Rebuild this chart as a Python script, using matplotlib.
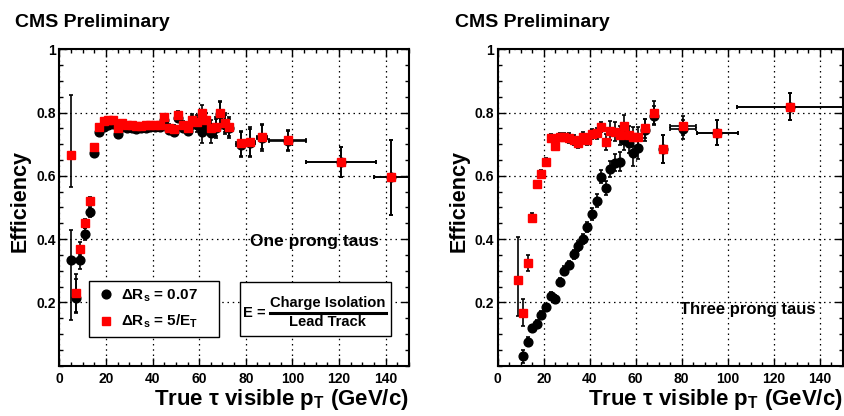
import matplotlib
matplotlib.use("Agg")
import matplotlib.pyplot as plt
from matplotlib.lines import Line2D
from matplotlib.patches import Rectangle
from matplotlib.ticker import MultipleLocator, FixedLocator, FixedFormatter

plt.rcParams['font.family'] = ['Liberation Sans', 'DejaVu Sans']
plt.rcParams['font.weight'] = 'bold'
plt.rcParams['axes.labelweight'] = 'bold'
plt.rcParams['mathtext.fontset'] = 'custom'
plt.rcParams['mathtext.rm'] = 'Liberation Sans:bold'
plt.rcParams['mathtext.it'] = 'Liberation Sans:bold'
plt.rcParams['mathtext.bf'] = 'Liberation Sans:bold'

# ---- one prong taus ----
one_x = [5, 7, 9, 11, 13, 15, 17, 19, 21, 23, 25, 27, 29, 31, 33, 35, 37, 39, 41, 43,
         45, 47, 49, 51, 53, 55, 57, 59, 61, 63, 65, 67, 69, 71, 73,
         78, 82, 87, 98, 121, 142.5]
one_xerr = [0] * 35 + [2, 2, 2, 8, 15, 7.5]
one_red = [0.665, 0.23, 0.37, 0.45, 0.52, 0.69, 0.755, 0.772, 0.776, 0.775, 0.752, 0.766,
           0.762, 0.76, 0.757, 0.757, 0.76, 0.762, 0.76, 0.762, 0.785, 0.752, 0.748, 0.793,
           0.76, 0.75, 0.777, 0.77, 0.798, 0.775, 0.75, 0.755, 0.8, 0.768, 0.755,
           0.703, 0.708, 0.724, 0.713, 0.645, 0.597]
one_red_lo = [0.10, 0.06, 0.02, 0.015, 0.012, 0.01] + [0.008] * 14 + [0.012] * 6 + \
             [0.02, 0.022, 0.025, 0.025, 0.028, 0.03, 0.037, 0.03, 0.03] + \
             [0.04, 0.045, 0.04, 0.032, 0.048, 0.12]
one_red_hi = [0.19, 0.06, 0.02, 0.015, 0.012, 0.01] + [0.008] * 14 + [0.012] * 6 + \
             [0.02, 0.022, 0.025, 0.025, 0.028, 0.03, 0.037, 0.03, 0.03] + \
             [0.04, 0.045, 0.04, 0.032, 0.045, 0.115]
one_blk = [0.335, 0.213, 0.334, 0.416, 0.486, 0.671, 0.74, 0.755, 0.76, 0.765, 0.732, 0.753,
           0.75, 0.75, 0.748, 0.75, 0.752, 0.755, 0.755, 0.755, 0.775, 0.745, 0.74, 0.782,
           0.752, 0.742, 0.768, 0.762, 0.74, 0.762, 0.735, 0.75, 0.795, 0.762, 0.75,
           0.698, 0.703, 0.72, 0.71, 0.645, 0.597]
one_blk_lo = [0.19, 0.045, 0.03, 0.02, 0.015, 0.01] + [0.008] * 14 + [0.012] * 6 + \
             [0.02, 0.022, 0.035, 0.025, 0.03, 0.03, 0.037, 0.03, 0.03] + \
             [0.04, 0.045, 0.04, 0.032, 0.048, 0.12]
one_blk_hi = [0.095, 0.06, 0.03, 0.02, 0.015, 0.01] + [0.008] * 14 + [0.012] * 6 + \
             [0.02, 0.022, 0.035, 0.025, 0.03, 0.03, 0.037, 0.03, 0.03] + \
             [0.04, 0.045, 0.04, 0.032, 0.045, 0.115]

# ---- three prong taus ----
three_red_x = [9, 11, 13, 15, 17, 19, 21, 23, 25, 27, 29, 31, 33, 35, 37, 39, 41, 43, 45,
               47, 49, 51, 53, 55, 57, 59, 61, 64, 68, 72, 80.5, 95.5, 127]
three_red_xerr = [0] * 30 + [5.5, 9, 23]
three_red = [0.271, 0.166, 0.324, 0.468, 0.573, 0.606, 0.645, 0.719, 0.695, 0.724, 0.724,
             0.719, 0.713, 0.703, 0.722, 0.713, 0.732, 0.734, 0.755, 0.708, 0.743, 0.74,
             0.729, 0.758, 0.729, 0.724, 0.724, 0.75, 0.8, 0.685, 0.758, 0.736, 0.819]
three_red_lo = [0.115, 0.04, 0.025, 0.015] + [0.012] * 7 + [0.016] * 8 + \
               [0.025, 0.03, 0.03, 0.03, 0.035, 0.03, 0.03, 0.03, 0.03, 0.035, 0.043, 0.03, 0.04, 0.042]
three_red_hi = [0.135, 0.045, 0.025, 0.015] + [0.012] * 7 + [0.016] * 8 + \
               [0.025, 0.03, 0.03, 0.03, 0.035, 0.03, 0.03, 0.03, 0.03, 0.035, 0.043, 0.03, 0.04, 0.042]
three_blk_x = [11, 13, 15, 17, 19, 21, 23, 25, 27, 29, 31, 33, 35, 37, 39, 41, 43, 45,
               47, 49, 51, 53, 55, 57, 59, 61, 64, 68, 72, 80.5, 95.5, 127]
three_blk_xerr = [0] * 29 + [5.5, 9, 23]
three_blk = [0.029, 0.076, 0.118, 0.131, 0.16, 0.184, 0.221, 0.21, 0.266, 0.30, 0.318,
             0.352, 0.379, 0.40, 0.437, 0.48, 0.522, 0.597, 0.561, 0.621, 0.642, 0.645,
             0.713, 0.703, 0.671, 0.687, 0.745, 0.79, 0.685, 0.748, 0.736, 0.819]
three_blk_err = [0.02, 0.015, 0.012, 0.012, 0.012, 0.012, 0.012, 0.012, 0.012, 0.014, 0.014,
                 0.015, 0.015, 0.016, 0.016, 0.018, 0.02, 0.02, 0.022, 0.025, 0.028, 0.03,
                 0.03, 0.032, 0.04, 0.035, 0.035, 0.03, 0.043, 0.03, 0.04, 0.042]

y_ticks = [0.2, 0.4, 0.6, 0.8, 1.0]
y_labels = ['0.2', '0.4', '0.6', '0.8', '1']
x_ticks = [0, 20, 40, 60, 80, 100, 120, 140]


def style_axes(ax):
    ax.set_xlim(0, 150)
    ax.set_ylim(0, 1)
    ax.xaxis.set_major_locator(FixedLocator(x_ticks))
    ax.xaxis.set_minor_locator(MultipleLocator(5))
    ax.yaxis.set_major_locator(FixedLocator(y_ticks))
    ax.yaxis.set_major_formatter(FixedFormatter(y_labels))
    ax.yaxis.set_minor_locator(MultipleLocator(0.05))
    ax.tick_params(which='both', direction='in', top=True, right=True, width=1)
    ax.tick_params(which='major', length=6, labelsize=10)
    ax.tick_params(which='minor', length=3)
    ax.tick_params(axis='x', pad=4.5)
    ax.tick_params(axis='y', pad=2.5)
    for lab in ax.get_xticklabels() + ax.get_yticklabels():
        lab.set_fontweight('bold')
    for s in ax.spines.values():
        s.set_linewidth(1.5)
    ax.grid(True, which='major', color='black', linestyle=(0, (1.2, 3)), linewidth=0.9)
    ax.set_axisbelow(True)
    ax.set_xlabel('True τ visible p$_\\mathrm{T}$ (GeV/c)', fontsize=16, fontweight='bold',
                  loc='right', labelpad=1)
    ax.set_ylabel('Efficiency', fontsize=15.5, fontweight='bold')
    ax.yaxis.set_label_coords(-0.082, 0.52)


def draw(ax, bx, by, bxe, bylo, byhi, rx, ry, rxe, rylo, ryhi):
    ax.errorbar(bx, by, xerr=bxe, yerr=[bylo, byhi], fmt='o', color='black', ms=6.3,
                ecolor='black', elinewidth=1.2, capsize=1.5, capthick=1.2, zorder=3)
    ax.errorbar(rx, ry, xerr=rxe, yerr=[rylo, ryhi], fmt='s', color='#ff0000', ms=6.4,
                mec='#ff0000', ecolor='black', elinewidth=1.2, capsize=1.5, capthick=1.2, zorder=4)


fig = plt.figure(figsize=(8.45, 4.16), dpi=100)
ax1 = fig.add_axes([0.0702, 0.121, 0.4138, 0.7605])
ax2 = fig.add_axes([0.589, 0.121, 0.4083, 0.7605])

draw(ax1, one_x, one_blk, one_xerr, one_blk_lo, one_blk_hi,
     one_x, one_red, one_xerr, one_red_lo, one_red_hi)
draw(ax2, three_blk_x, three_blk, three_blk_xerr, three_blk_err, three_blk_err,
     three_red_x, three_red, three_red_xerr, three_red_lo, three_red_hi)

style_axes(ax1)
style_axes(ax2)

ax1.text(0.729, 0.392, 'One prong taus', transform=ax1.transAxes, ha='center', va='center',
         fontsize=12.5, fontweight='bold', zorder=5)
ax2.text(0.724, 0.176, 'Three prong taus', transform=ax2.transAxes, ha='center', va='center',
         fontsize=12, fontweight='bold', zorder=5)

# legend
handles = [Line2D([], [], marker='o', color='black', ls='none', ms=6.3),
           Line2D([], [], marker='s', color='#ff0000', ls='none', ms=6.4)]
leg = ax1.legend(handles, ['ΔR$_\\mathrm{s}$ = 0.07', 'ΔR$_\\mathrm{s}$ = 5/E$_\\mathrm{T}$'],
                 loc='lower left', bbox_to_anchor=(0.086, 0.092, 0.37, 0.173), mode='expand',
                 borderaxespad=0, fancybox=False, edgecolor='black',
                 framealpha=1, borderpad=0.4, handlelength=1.4, handletextpad=0.25,
                 labelspacing=0.6, prop={'weight': 'bold', 'size': 11})
leg.get_frame().set_linewidth(1.0)

# formula box
ax1.add_patch(Rectangle((0.518, 0.094), 0.43, 0.171, transform=ax1.transAxes,
                        facecolor='white', edgecolor='black', linewidth=1.0, zorder=5))
ax1.text(0.525, 0.166, 'E =', transform=ax1.transAxes, ha='left', va='center',
         fontsize=10.6, fontweight='bold', zorder=6)
ax1.text(0.767, 0.199, 'Charge Isolation', transform=ax1.transAxes, ha='center',
         va='center', fontsize=10.6, fontweight='bold', zorder=6)
ax1.text(0.767, 0.137, 'Lead Track', transform=ax1.transAxes, ha='center', va='center',
         fontsize=10.6, fontweight='bold', zorder=6)
ax1.add_line(Line2D([0.602, 0.933], [0.166, 0.166], transform=ax1.transAxes,
                    color='black', linewidth=2.2, zorder=6))

fig.text(0.0178, 0.945, 'CMS Preliminary', fontsize=14, fontweight='bold', ha='left', va='center')
fig.text(0.538, 0.945, 'CMS Preliminary', fontsize=14, fontweight='bold', ha='left', va='center')

fig.savefig('out.png', dpi=100)
